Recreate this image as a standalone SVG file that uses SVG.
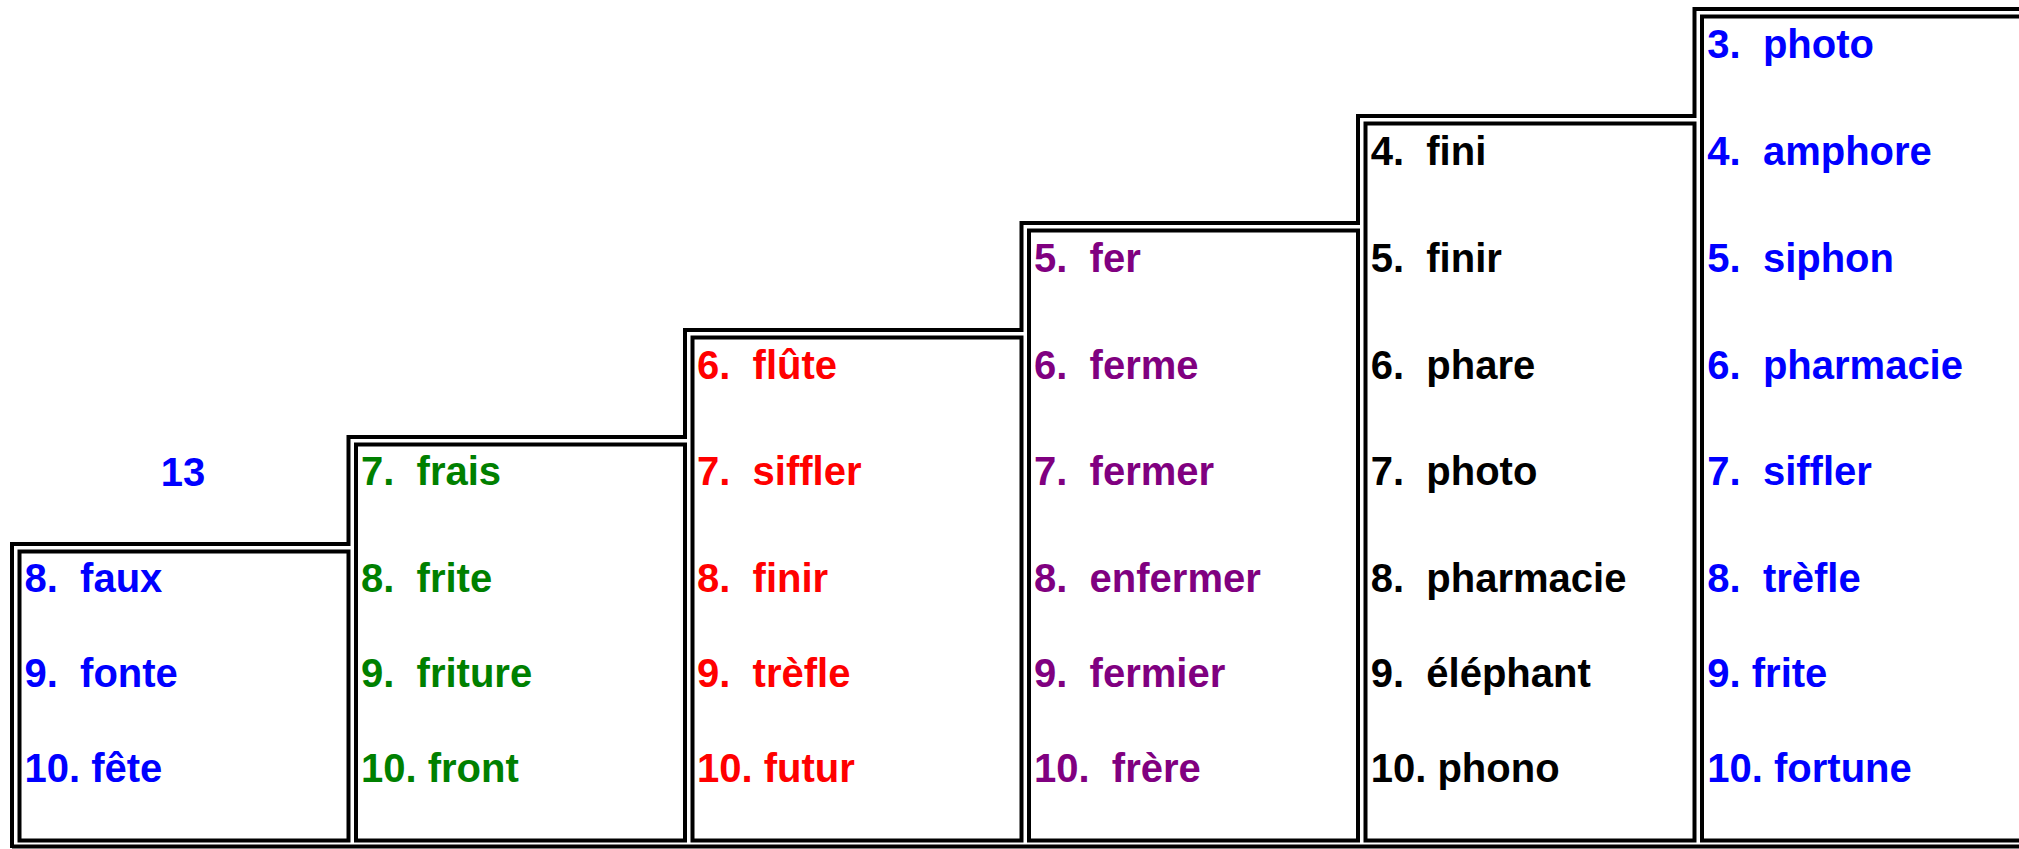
<svg xmlns="http://www.w3.org/2000/svg" width="2019" height="849" viewBox="0 0 2019 849" xml:space="preserve">
<style>
.ln{fill:none;stroke:#000;stroke-width:4}
text{font-family:"Liberation Sans",Arial,sans-serif;font-weight:bold;font-size:40px;white-space:pre}
.b{fill:#0000FF}.g{fill:#008000}.r{fill:#FF0000}.p{fill:#800080}.k{fill:#000}
</style>
<rect width="2019" height="849" fill="#fff"/>
<g id="connectors">
<path class="ln" d="M12 848 V544 H348.5 V437 H685 V330 H1021.5 V223 H1358 V116 H1694.5 V9 H2030"/>
<path class="ln" d="M12 846.5 H2030"/>
</g>
<g id="col1">
<rect class="ln" x="19.5" y="551.5" width="329" height="289"/>
<text class="b" x="183" y="485.5" text-anchor="middle">13</text>
<text class="b" x="24.5" y="592">8.  faux</text>
<text class="b" x="24.5" y="686.7">9.  fonte</text>
<text class="b" x="24.5" y="781.5">10. fête</text>
</g>
<g id="col2">
<rect class="ln" x="356" y="444.5" width="329" height="396"/>
<text class="g" x="361" y="485.3">7.  frais</text>
<text class="g" x="361" y="592">8.  frite</text>
<text class="g" x="361" y="686.7">9.  friture</text>
<text class="g" x="361" y="781.5">10. front</text>
</g>
<g id="col3">
<rect class="ln" x="692.5" y="337.5" width="329" height="503"/>
<text class="r" x="697" y="378.5">6.  flûte</text>
<text class="r" x="697" y="485.3">7.  siffler</text>
<text class="r" x="697" y="592">8.  finir</text>
<text class="r" x="697" y="686.7">9.  trèfle</text>
<text class="r" x="697" y="781.5">10. futur</text>
</g>
<g id="col4">
<rect class="ln" x="1029" y="230.5" width="329" height="610"/>
<text class="p" x="1034" y="271.7">5.  fer</text>
<text class="p" x="1034" y="378.5">6.  ferme</text>
<text class="p" x="1034" y="485.3">7.  fermer</text>
<text class="p" x="1034" y="592">8.  enfermer</text>
<text class="p" x="1034" y="686.7">9.  fermier</text>
<text class="p" x="1034" y="781.5">10.  frère</text>
</g>
<g id="col5">
<rect class="ln" x="1365.5" y="123.5" width="329" height="717"/>
<text class="k" x="1370.7" y="165">4.  fini</text>
<text class="k" x="1370.7" y="271.7">5.  finir</text>
<text class="k" x="1370.7" y="378.5">6.  phare</text>
<text class="k" x="1370.7" y="485.3">7.  photo</text>
<text class="k" x="1370.7" y="592">8.  pharmacie</text>
<text class="k" x="1370.7" y="686.7">9.  éléphant</text>
<text class="k" x="1370.7" y="781.5">10. phono</text>
</g>
<g id="col6">
<rect class="ln" x="1702" y="16.5" width="340" height="824"/>
<text class="b" x="1707.3" y="58.3">3.  photo</text>
<text class="b" x="1707.3" y="165">4.  amphore</text>
<text class="b" x="1707.3" y="271.7">5.  siphon</text>
<text class="b" x="1707.3" y="378.5">6.  pharmacie</text>
<text class="b" x="1707.3" y="485.3">7.  siffler</text>
<text class="b" x="1707.3" y="592">8.  trèfle</text>
<text class="b" x="1707.3" y="686.7">9. frite</text>
<text class="b" x="1707.3" y="781.5">10. fortune</text>
</g>
</svg>
